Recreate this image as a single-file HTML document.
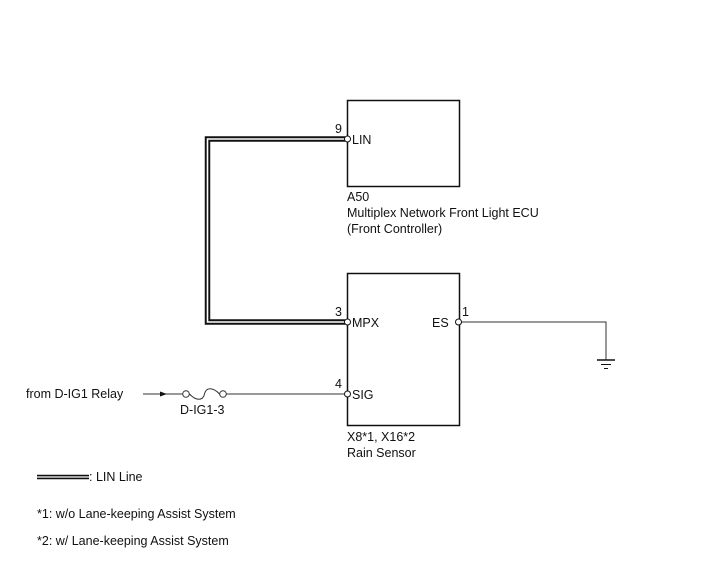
<!DOCTYPE html>
<html><head><meta charset="utf-8"><style>
html,body{margin:0;padding:0;background:#fff;}
svg{display:block;}
text{font-family:"Liberation Sans",Arial,sans-serif;font-size:12.5px;fill:#111;}
</style></head><body>
<svg width="713" height="581" viewBox="0 0 713 581" xmlns="http://www.w3.org/2000/svg">
<!-- boxes -->
<rect x="347.5" y="100.5" width="112" height="86" fill="none" stroke="#111" stroke-width="1.5"/>
<rect x="347.5" y="273.5" width="112" height="152" fill="none" stroke="#111" stroke-width="1.5"/>
<!-- LIN wire -->
<path d="M345 139 H207.5 V322 H345" fill="none" stroke="#111" stroke-width="5.5"/>
<path d="M345 139 H207.5 V322 H345" fill="none" stroke="#fff" stroke-width="1.6"/>
<!-- ES wire -->
<path d="M461 322 H606 V360" fill="none" stroke="#333" stroke-width="1"/>
<line x1="597" y1="360" x2="615" y2="360" stroke="#111" stroke-width="1.5"/>
<line x1="601" y1="364.5" x2="611" y2="364.5" stroke="#111" stroke-width="1"/>
<line x1="604" y1="368.5" x2="608" y2="368.5" stroke="#111" stroke-width="1"/>
<!-- SIG wire -->
<line x1="226" y1="394" x2="345" y2="394" stroke="#333" stroke-width="1"/>
<line x1="143" y1="394" x2="183" y2="394" stroke="#333" stroke-width="1"/>
<polygon points="160,391.5 167,394 160,396.5" fill="#111"/>
<path d="M189.5 394 C196 401,203 401,204.5 394 C206 387,213 387,219.5 394" fill="none" stroke="#333" stroke-width="1"/>
<circle cx="186" cy="394" r="3.3" fill="#fff" stroke="#333" stroke-width="1"/>
<circle cx="223" cy="394" r="3.3" fill="#fff" stroke="#333" stroke-width="1"/>
<!-- terminals -->
<circle cx="347.5" cy="139" r="3" fill="#fff" stroke="#111" stroke-width="1"/>
<circle cx="347.5" cy="322" r="3" fill="#fff" stroke="#111" stroke-width="1"/>
<circle cx="347.5" cy="394" r="3" fill="#fff" stroke="#111" stroke-width="1"/>
<circle cx="458.5" cy="322" r="3" fill="#fff" stroke="#111" stroke-width="1"/>
<!-- labels -->
<text x="335" y="133">9</text>
<text x="352" y="144">LIN</text>
<text x="335" y="316">3</text>
<text x="352" y="327">MPX</text>
<text x="335" y="388">4</text>
<text x="352" y="399">SIG</text>
<text x="432" y="327">ES</text>
<text x="462" y="316">1</text>
<text x="347" y="201">A50</text>
<text x="347" y="217">Multiplex Network Front Light ECU</text>
<text x="347" y="233">(Front Controller)</text>
<text x="347" y="441">X8*1, X16*2</text>
<text x="347" y="457">Rain Sensor</text>
<text x="26" y="398">from D-IG1 Relay</text>
<text x="180" y="414">D-IG1-3</text>
<!-- legend -->
<line x1="37" y1="477" x2="89" y2="477" stroke="#111" stroke-width="4.5"/>
<line x1="37" y1="477" x2="89" y2="477" stroke="#fff" stroke-width="1.3"/>
<text x="89" y="481">: LIN Line</text>
<text x="37" y="518">*1: w/o Lane-keeping Assist System</text>
<text x="37" y="545">*2: w/ Lane-keeping Assist System</text>
</svg>
</body></html>
